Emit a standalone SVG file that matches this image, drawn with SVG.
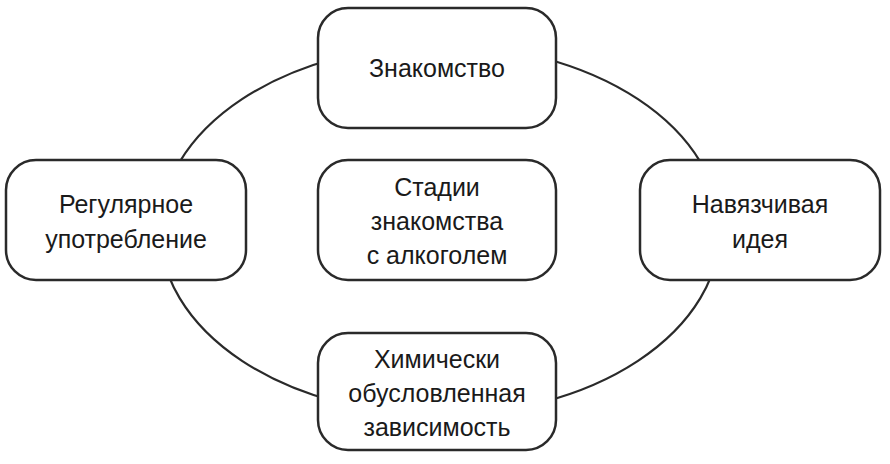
<svg xmlns="http://www.w3.org/2000/svg" width="890" height="464" viewBox="0 0 890 464">
<style>
.n{fill:#fff;stroke:#2a2a2a;stroke-width:2.5}
.c{fill:none;stroke:#2a2a2a;stroke-width:2.2}
text{font-family:"Liberation Sans",Arial,sans-serif;font-size:25px;fill:#1a1a1a;text-anchor:middle}
</style>
<rect width="890" height="464" fill="#fff"/>
<g id="connectors"><ellipse class="c" cx="440" cy="230" rx="280" ry="185"/></g>
<g id="top"><rect class="n" x="318" y="8" width="238" height="120" rx="30"/><text x="437" y="77">Знакомство</text></g>
<g id="left"><rect class="n" x="6" y="160" width="240" height="120" rx="30"/><text x="126" y="213">Регулярное</text><text x="126" y="248">употребление</text></g>
<g id="center"><rect class="n" x="318" y="160" width="238" height="120" rx="30"/><text x="437" y="196">Стадии</text><text x="437" y="230">знакомства</text><text x="437" y="264">с алкоголем</text></g>
<g id="right"><rect class="n" x="640" y="160" width="240" height="120" rx="30"/><text x="760" y="213">Навязчивая</text><text x="760" y="248">идея</text></g>
<g id="bottom"><rect class="n" x="318" y="333" width="238" height="117" rx="30"/><text x="437" y="368">Химически</text><text x="437" y="402">обусловленная</text><text x="437" y="436">зависимость</text></g>
</svg>
